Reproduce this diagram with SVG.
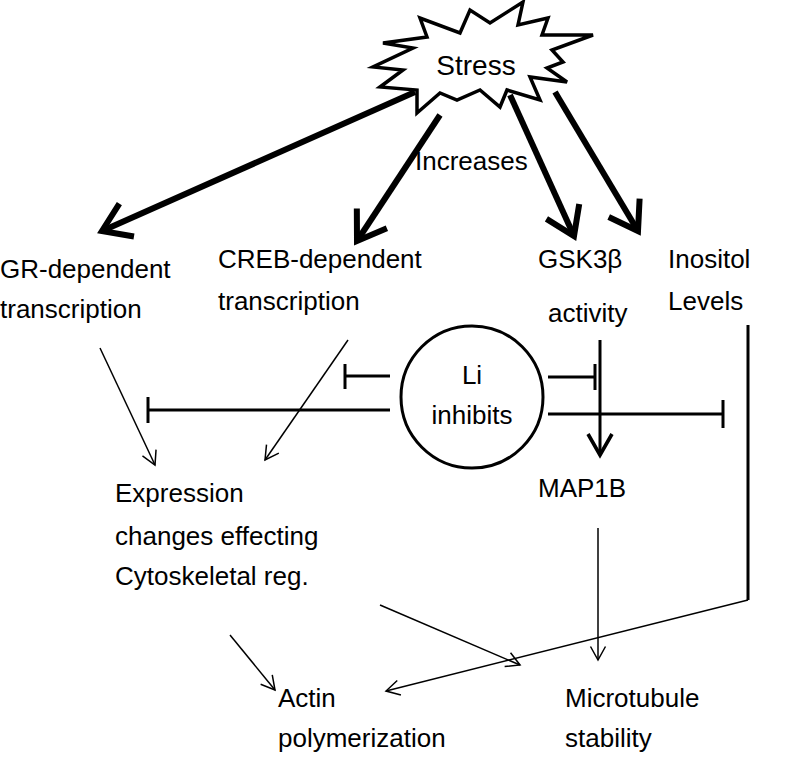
<svg xmlns="http://www.w3.org/2000/svg" width="800" height="763" viewBox="0 0 800 763">
<style>
text{font-family:"Liberation Sans",Arial,sans-serif;font-size:26px;fill:#000}
.thick{stroke:#000;stroke-width:6;fill:none}
.thin{stroke:#000;stroke-width:1.5;fill:none}
.inh{stroke:#000;stroke-width:3;fill:none}
</style>
<defs>
<marker id="big" markerWidth="8" markerHeight="8" refX="6" refY="4" orient="auto" markerUnits="strokeWidth"><polyline points="1.5,1 6,4 1.5,7" fill="none" stroke="#000" stroke-width="1"/></marker>
<marker id="small" markerWidth="12" markerHeight="12" refX="10" refY="6" orient="auto" markerUnits="strokeWidth"><polyline points="1,1 10,6 1,11" fill="none" stroke="#000" stroke-width="1"/></marker>
<marker id="mid" markerWidth="10" markerHeight="10" refX="8" refY="5" orient="auto" markerUnits="strokeWidth"><polyline points="1,1 8,5 1,9" fill="none" stroke="#000" stroke-width="1.2"/></marker>
</defs>
<g id="stress">
<polygon points="523,2 518,25 548,18 542,35 593,35 552,50 563,62 547,68 567,82 530,77 540,100 507,90 500,107 480,90 457,100 440,93 417,113 417,90 380,87 403,70 373,67 413,48 383,43 427,37 420,18 460,33 470,10 490,23" fill="#fff" stroke="#000" stroke-width="3.5" stroke-linejoin="miter"/>
<text x="476" y="75" text-anchor="middle" style="font-size:28px">Stress</text>
</g>
<g id="li">
<circle cx="472" cy="397" r="71" fill="#fff" stroke="#000" stroke-width="3"/>
<text x="472" y="384" text-anchor="middle">Li</text>
<text x="472" y="424" text-anchor="middle">inhibits</text>
</g>
<g id="gr"><text x="0" y="278">GR-dependent</text><text x="0" y="318">transcription</text></g>
<g id="creb"><text x="218" y="268">CREB-dependent</text><text x="218" y="310">transcription</text></g>
<g id="gsk"><text x="538" y="268">GSK3β</text><text x="548" y="322">activity</text></g>
<g id="inositol"><text x="668" y="268">Inositol</text><text x="668" y="310">Levels</text></g>
<g id="map1b"><text x="538" y="497">MAP1B</text></g>
<g id="expr"><text x="115" y="502">Expression</text><text x="115" y="545">changes effecting</text><text x="115" y="585">Cytoskeletal reg.</text></g>
<g id="actin"><text x="278" y="707">Actin</text><text x="278" y="747">polymerization</text></g>
<g id="micro"><text x="565" y="707">Microtubule</text><text x="565" y="747">stability</text></g>
<g id="label"><text x="415" y="170">Increases</text></g>
<g id="connectors">
<line class="thick" x1="415" y1="92" x2="102" y2="231" marker-end="url(#big)"/>
<line class="thick" x1="440" y1="115" x2="357" y2="241" marker-end="url(#big)"/>
<line class="thick" x1="510" y1="95" x2="574" y2="236" marker-end="url(#big)"/>
<line class="thick" x1="555" y1="92" x2="638" y2="231" marker-end="url(#big)"/>
<line class="inh" x1="390" y1="376" x2="345" y2="376"/><line class="inh" x1="345" y1="364" x2="345" y2="389"/>
<line class="inh" x1="548" y1="377" x2="595" y2="377"/><line class="inh" x1="595" y1="364" x2="595" y2="390"/>
<line class="inh" x1="390" y1="410" x2="148" y2="410"/><line class="inh" x1="148" y1="397" x2="148" y2="423"/>
<line class="inh" x1="548" y1="414" x2="723" y2="414"/><line class="inh" x1="723" y1="400" x2="723" y2="428"/>
<line class="inh" x1="600" y1="340" x2="600" y2="455" marker-end="url(#mid)"/>
<line class="thin" x1="100" y1="348" x2="155" y2="465" marker-end="url(#small)"/>
<line class="thin" x1="348" y1="340" x2="265" y2="460" marker-end="url(#small)"/>
<line class="thin" x1="230" y1="635" x2="275" y2="690" marker-end="url(#small)"/>
<line class="thin" x1="380" y1="605" x2="520" y2="665" marker-end="url(#small)"/>
<line class="thin" x1="598" y1="528" x2="598" y2="660" marker-end="url(#small)"/>
<line class="inh" x1="748" y1="325" x2="748" y2="600"/>
<line class="thin" x1="748" y1="600" x2="386" y2="691" marker-end="url(#small)"/>
</g>
</svg>
